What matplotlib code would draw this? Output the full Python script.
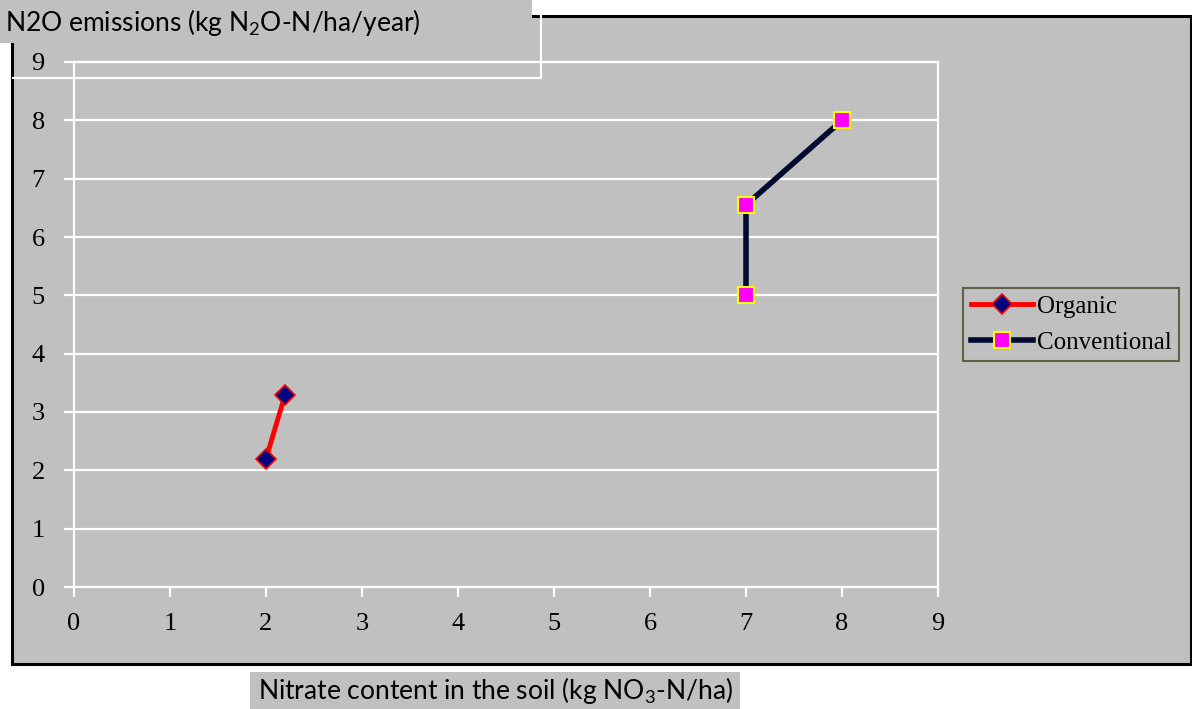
import matplotlib
matplotlib.use("Agg")
import matplotlib.pyplot as plt
from matplotlib.patches import Rectangle
from matplotlib.lines import Line2D

plt.rcParams['mathtext.fontset'] = 'custom'
plt.rcParams['mathtext.rm'] = 'Lato'
plt.rcParams['mathtext.it'] = 'Lato'

# data
organic_x = [2.0, 2.2]
organic_y = [2.2, 3.3]
conv_x = [7.0, 7.0, 8.0]
conv_y = [5.0, 6.55, 8.0]
ticks = list(range(10))

W, H = 1192, 709
fig = plt.figure(figsize=(W / 100, H / 100), dpi=100)
gray = '#c0c0c0'

def fx(px):
    return px / W

def fy(py):
    return 1 - py / H

# chart area with black frame
fig.patches.append(Rectangle((fx(12), fy(664)), fx(1191) - fx(12), fy(16) - fy(664),
                             transform=fig.transFigure, facecolor=gray,
                             edgecolor='black', lw=2.2, zorder=0.5))

ax = fig.add_axes([fx(74), fy(587), fx(938) - fx(74), fy(62) - fy(587)])
ax.set_zorder(2)
ax.set_facecolor(gray)
ax.set_xlim(0, 9)
ax.set_ylim(0, 9)
ax.set_xticks(ticks)
ax.set_yticks(ticks)
ax.grid(axis='y', color='white', lw=1.6)
for s in ax.spines.values():
    s.set_color('white')
    s.set_linewidth(1.6)
ax.tick_params(colors='white', length=7, width=1.6, labelcolor='black',
               labelsize=19)
ax.tick_params(axis='x', pad=12)
ax.tick_params(axis='y', pad=14)
for lab in ax.get_xticklabels() + ax.get_yticklabels():
    lab.set_family('Liberation Serif')

ax.plot(organic_x, organic_y, color='#ff0000', lw=3.5, marker='D', ms=10,
        mfc='#000080', mec='#ff0000', mew=1.2, label='Organic', clip_on=False)
ax.plot(conv_x, conv_y, color='#000a30', lw=4, marker='s', ms=12,
        mfc='#ff00ff', mec='#ffff00', mew=1.5, label='Conventional', clip_on=False)

axw = fx(938) - fx(74)
leg = ax.legend(loc='center left', bbox_to_anchor=((fx(963) - fx(74)) / axw, 0.5),
                prop={'family': 'Liberation Serif', 'size': 18}, frameon=True,
                fancybox=False, handlelength=2.5, handletextpad=0.15,
                borderpad=0.3, labelspacing=0.55, borderaxespad=0)
leg.get_frame().set_facecolor(gray)
leg.get_frame().set_edgecolor('#4a4a2a')
leg.get_frame().set_linewidth(1.5)

# title box (gray) with a white outline below/right
fig.patches.append(Rectangle((0, fy(43)), fx(532), fy(0) - fy(43),
                             transform=fig.transFigure, facecolor=gray,
                             edgecolor='none', zorder=3))
fig.lines.append(Line2D([fx(13), fx(541), fx(541)], [fy(78), fy(78), fy(16)],
                        transform=fig.transFigure, color='white', lw=1.6, zorder=3))
fig.text(fx(5), fy(22), r'N2O emissions (kg N$_{2}$O-N/ha/year)',
         family='Lato', fontsize=19, va='center', ha='left', zorder=4)

# x label box
fig.patches.append(Rectangle((fx(250), 0), fx(740) - fx(250), fy(672),
                             transform=fig.transFigure, facecolor=gray,
                             edgecolor='none', zorder=3))
fig.text(fx(495), fy(690), r'Nitrate content in the soil (kg NO$_{3}$-N/ha)',
         family='Lato', fontsize=19, va='center', ha='center', zorder=4)

fig.savefig('out.png', dpi=100, facecolor='white')
